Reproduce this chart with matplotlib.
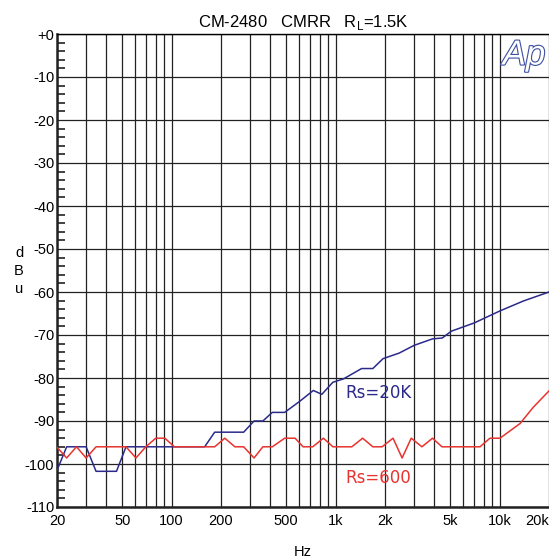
import numpy as np
import matplotlib
matplotlib.use("Agg")
import matplotlib.pyplot as plt
import matplotlib.patheffects as pe
from matplotlib.ticker import FixedLocator, NullFormatter, MultipleLocator

plt.rcParams['font.family'] = ['Liberation Sans', 'DejaVu Sans']

# Rs = 20K curve (Hz, dBu)
f_20k = [20, 22.9, 30.1, 34.6, 46.1, 52.7, 159, 183, 275, 318, 360, 411, 489, 605,
         731, 824, 961, 1118, 1440, 1686, 1946, 2442, 3014, 3898, 4467, 5085,
         6996, 10046, 13940, 20000]
db_20k = [-101.5, -96, -96, -101.7, -101.7, -96, -96, -92.6, -92.6, -90, -90, -88,
          -88, -85.4, -82.9, -83.8, -81, -80.2, -77.8, -77.8, -75.5, -74.2, -72.4,
          -70.9, -70.7, -69.1, -67.2, -64.4, -62.1, -60]

# Rs = 600 curve (Hz, dBu)
f_600 = [20, 22.9, 26.3, 30.1, 34.6, 52.7, 60.6, 69.6, 80, 91, 103.8, 183, 211, 243,
         275, 318, 360, 411, 489, 566, 633, 725, 842, 963, 1255, 1461, 1686, 1921,
         2239, 2543, 2890, 3358, 3898, 4450, 7590, 8730, 10046, 13310, 16040, 20000]
db_600 = [-96.1, -98.6, -96, -98.6, -96, -96, -98.6, -96, -94, -94, -96, -96, -94, -96,
          -96, -98.6, -96, -96, -94, -94, -96, -96, -94, -96, -96, -94, -96, -96,
          -94, -98.6, -94, -96, -94, -96, -96, -94, -94, -90.6, -86.8, -83]

xtick_vals = [20, 50, 100, 200, 500, 1000, 2000, 5000, 10000, 20000]
xtick_labels = ['20', '50', '100', '200', '500', '1k', '2k', '5k', '10k', '20k']
ytick_vals = list(range(0, -120, -10))
ytick_labels = ['+0'] + [str(v) for v in ytick_vals[1:]]

fig = plt.figure(figsize=(5.49, 5.58), dpi=100)
ax = fig.add_axes([57 / 549, 1 - 507 / 558, 492 / 549, 473 / 558])

ax.set_xscale('log')
ax.set_xlim(20, 20000)
ax.set_ylim(-110, 0)

# vertical grid at every 1..9 x decade
grid_f = []
for dec in [10, 100, 1000, 10000]:
    for m in range(1, 10):
        v = m * dec
        if 20 <= v <= 20000:
            grid_f.append(v)
for v in grid_f:
    ax.axvline(v, color='#222222', lw=0.9, zorder=1)
for v in ytick_vals:
    ax.axhline(v, color='#222222', lw=0.9, zorder=1)

ax.plot(f_20k, db_20k, color='#2b2a8a', lw=1.1, zorder=3)
ax.plot(f_600, db_600, color='#e8332e', lw=1.1, zorder=3)

ax.xaxis.set_major_locator(FixedLocator(xtick_vals))
ax.set_xticklabels(xtick_labels)
ax.xaxis.set_minor_formatter(NullFormatter())
ax.tick_params(axis='x', which='both', length=0, labelsize=10.5, pad=5)
# last label pushed left so it stays inside the picture
ax.get_xticklabels()[-1].set_horizontalalignment('right')

ax.set_yticks(ytick_vals)
ax.set_yticklabels(ytick_labels)
ax.yaxis.set_minor_locator(MultipleLocator(2))
ax.tick_params(axis='y', which='major', length=0, labelsize=10.5, pad=2)
ax.tick_params(axis='y', which='minor', direction='in', length=6, width=1.2,
               color='#222222')

for s in ['left', 'bottom']:
    ax.spines[s].set_linewidth(1.8)
    ax.spines[s].set_color('#222222')
ax.spines['right'].set_visible(False)
ax.spines['top'].set_linewidth(1.0)

ax.set_title(r'CM-2480   CMRR   R$_\mathregular{L}$=1.5K', fontsize=12, pad=5)
ax.set_xlabel('Hz', fontsize=10.5, labelpad=12)
fig.text(19 / 549, 1 - 271 / 558, 'd\nB\nu', fontsize=10.5, ha='center', va='center',
         linespacing=1.35)

ax.text(345 / 549, 1 - 393 / 558, 'Rs=20K', transform=fig.transFigure,
        color='#2b2a8a', fontsize=12, va='center', family='DejaVu Sans')
ax.text(345 / 549, 1 - 478 / 558, 'Rs=600', transform=fig.transFigure,
        color='#e8332e', fontsize=12, va='center', family='DejaVu Sans')

logo = fig.text(524 / 549, 1 - 55 / 558, 'Ap', fontsize=25, style='italic',
                ha='center', va='center', color='white')
logo.set_path_effects([pe.Stroke(linewidth=1.6, foreground='#3c4fa0'), pe.Normal()])

fig.savefig('out.png', dpi=100)
